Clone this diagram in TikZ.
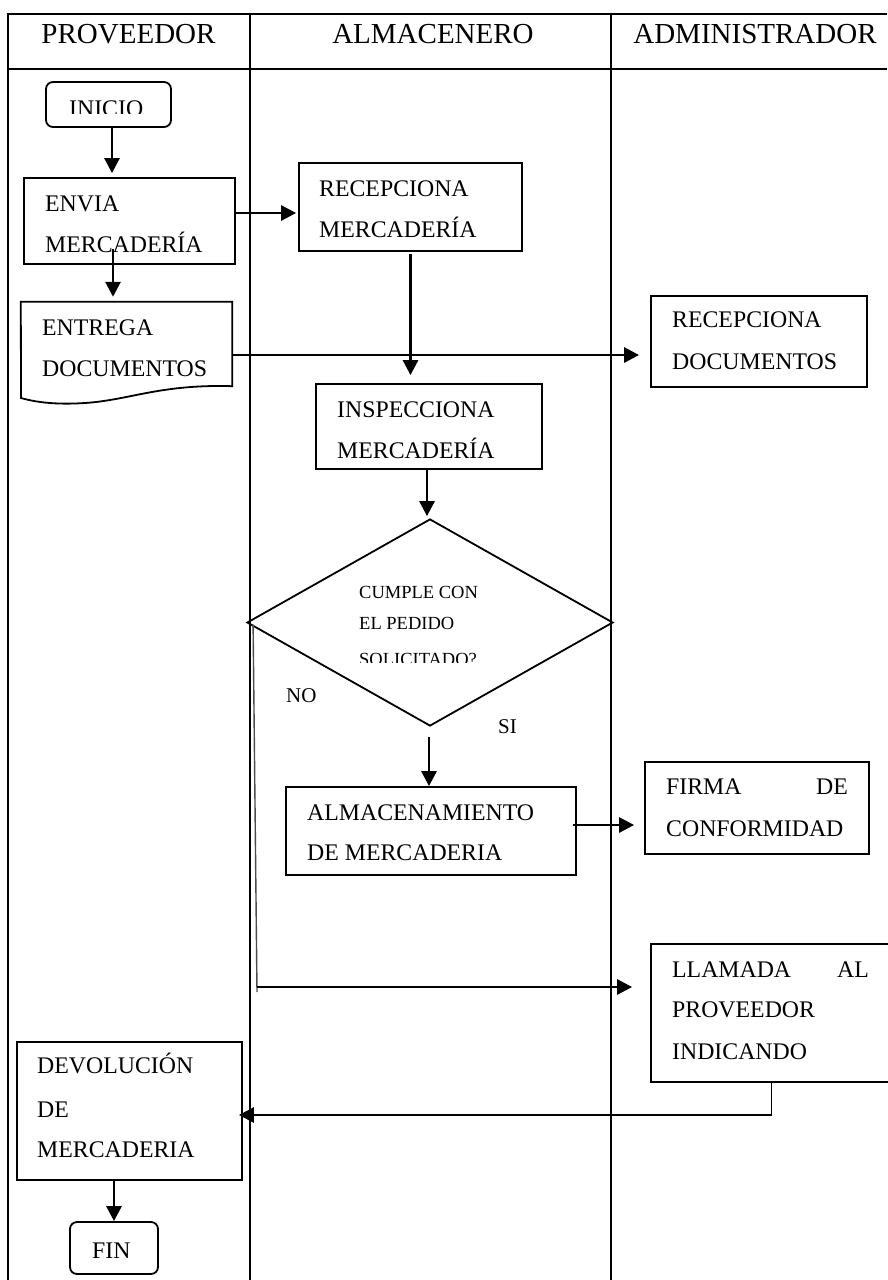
\documentclass[tikz,border=0pt]{standalone}
\usepackage{fontspec}
\setmainfont{Liberation Serif}
\usetikzlibrary{arrows.meta,shapes.geometric,calc}

\tikzset{
  grid/.style={line width=2.6pt},
  box/.style={draw, line width=1.8pt, inner sep=0pt, rectangle},
  term/.style={box, rounded corners=7pt},
  arr/.style={line width=2.8pt, -{Triangle[length=15pt,width=15pt]}},
  noline/.style={line width=1.4pt, draw=black!70},
  retline/.style={line width=1.6pt},
  head/.style={font=\fontsize{29}{35}\selectfont, inner sep=0pt, anchor=base},
  body/.style={font=\fontsize{23.8}{29}\selectfont, inner sep=0pt, anchor=base west},
  bodyr/.style={font=\fontsize{23.8}{29}\selectfont, inner sep=0pt, anchor=base east},
  small/.style={font=\fontsize{18.5}{22}\selectfont, inner sep=0pt, anchor=base west},
  lbl/.style={font=\fontsize{21}{25}\selectfont, inner sep=0pt, anchor=base west}
}

\begin{document}
\begin{tikzpicture}[x=1pt,y=1pt]
\useasboundingbox (0,0) rectangle (887,-1280);
\fill[white] (0,0) rectangle (887,-1280);

% swimlane table
\draw[grid] (8,-14) -- (887,-14);
\draw[grid] (8,-69) -- (887,-69);
\draw[grid] (8,-13) -- (8,-1280);
\draw[grid] (250,-13) -- (250,-1280);
\draw[grid] (611,-13) -- (611,-1280);

\node[head] (hprov) at (128.5,-43) {PROVEEDOR};
\node[head] (halm)  at (433,-43)   {ALMACENERO};
\node[head] (hadm)  at (755,-43)   {ADMINISTRADOR};

% shapes
\node[term, minimum width=125pt, minimum height=45pt] (inicio) at (108.5,-104.5) {};
\node[box, minimum width=211pt, minimum height=86pt] (envia) at (129.5,-221) {};
\node[box, minimum width=223pt, minimum height=88pt] (recmerc) at (410.5,-207) {};
\node[inner sep=0pt, minimum width=211pt, minimum height=84pt] (entrega) at (126.5,-344) {};
\draw[line width=1.8pt, line join=miter] (entrega.south east) -- (entrega.north east) -- (entrega.north west) -- (21,-398)
  .. controls (35,-402) and (55,-405) .. (85,-403)
  .. controls (130,-400) and (160,-384) .. (entrega.south east) -- cycle;
\node[box, minimum width=216pt, minimum height=91pt] (recdoc) at (759,-341.5) {};
\node[box, minimum width=226pt, minimum height=85pt] (inspec) at (429,-426.5) {};
\node[draw, line width=1.8pt, diamond, inner sep=0pt, minimum width=366pt, minimum height=207pt] (dec) at (430,-622.5) {};
\node[box, minimum width=290pt, minimum height=88pt] (almac) at (431,-831) {};
\node[box, minimum width=224pt, minimum height=92pt] (firma) at (757,-808) {};
\node[box, minimum width=241pt, minimum height=138pt] (llamada) at (771.5,-1013) {};
\node[box, minimum width=225pt, minimum height=138pt] (devol) at (129.5,-1111) {};
\node[term, minimum width=88pt, minimum height=52pt] (fin) at (114,-1248) {};

% texts
\begin{scope}
  \clip (40,-82) rectangle (175,-113);
  \node[body] (tinicio) at (69,-116) {INICIO};
\end{scope}
\node[body] (tenv1) at (45,-211) {ENVIA};
\node[body] (tenv2) at (45,-252) {MERCADERÍA};
\node[body] (trm1) at (319,-196) {RECEPCIONA};
\node[body] (trm2) at (319,-237) {MERCADERÍA};
\node[body] (tent1) at (42,-335) {ENTREGA};
\node[body] (tent2) at (42,-376) {DOCUMENTOS};
\node[body] (trd1) at (672,-327) {RECEPCIONA};
\node[body] (trd2) at (672,-369) {DOCUMENTOS};
\node[body] (tins1) at (337,-417) {INSPECCIONA};
\node[body] (tins2) at (337,-458) {MERCADERÍA};
\begin{scope}
  \clip (340,-570) rectangle (570,-662.5);
  \node[small] (tdec1) at (359,-598) {CUMPLE CON};
  \node[small] (tdec2) at (359,-629) {EL PEDIDO};
  \node[small] (tdec3) at (359,-665.5) {SOLICITADO?};
\end{scope}
\node[lbl] (tno) at (286,-702) {NO};
\node[lbl] (tsi) at (498,-733) {SI};
\node[body] (talm1) at (307,-820) {ALMACENAMIENTO};
\node[body] (talm2) at (307,-860) {DE MERCADERIA};
\node[body] (tfir1) at (666,-794) {FIRMA};
\node[bodyr] (tfir2) at (848,-794) {DE};
\node[body] (tfir3) at (666,-836) {CONFORMIDAD};
\node[body] (tll1) at (672,-977) {LLAMADA};
\node[bodyr] (tll2) at (869,-977) {AL};
\node[body] (tll3) at (672,-1017) {PROVEEDOR};
\node[body] (tll4) at (672,-1059) {INDICANDO};
\node[body] (tdev1) at (37,-1073) {DEVOLUCIÓN};
\node[body] (tdev2) at (37,-1117) {DE};
\node[body] (tdev3) at (37,-1157) {MERCADERIA};
\node[body] (tfin) at (92,-1258) {FIN};

% connectors
\draw[arr, shorten >=4pt] ($(inicio.south)+(3.5,0)$) -- ($(inicio.south |- envia.north)+(3.5,0)$);
\draw[arr, shorten >=2pt] ($(envia.east)+(0,8)$) -- ($(envia.east -| recmerc.west)+(0,8)$);
\draw[arr, shorten >=5pt] ($(envia.south)+(-16.5,16)$) -- ($(envia.south |- entrega.north)+(-16.5,0)$);
\draw[arr] ($(entrega.east)+(0,-11)$) -- ($(entrega.east -| recdoc.west)+(-11,-11)$);
\draw[arr, shorten >=8pt] ($(recmerc.south)+(0,-2)$) -- (recmerc.south |- inspec.north);
\draw[arr, shorten >=2pt] ($(inspec.south)+(-2,0)$) -- ($(inspec.south |- dec.north)+(-2,0)$);
\draw[arr] ($(dec.south)+(-1,-10)$) -- ($(dec.south |- almac.north)+(-1,0)$);
\draw[arr] ($(almac.east)+(-4,6)$) -- ($(almac.east -| firma.west)+(-10,6)$);

\coordinate (nocorner) at (257,-987);
\draw[noline] ($(dec.west)+(7,-2)$) -- ($(nocorner)+(0,-5)$);
\draw[arr] (nocorner) -- ($(nocorner -| llamada.west)+(-18,0)$);

\coordinate (retcorner) at (771.5,-1115);
\draw[retline] (llamada.south) -- (retcorner);
\draw[arr] ($(retcorner)+(0.8,0)$) -- ($(retcorner -| devol.east)+(-4,0)$);

\draw[arr] (fin.north |- devol.south) -- (fin.north);
\end{tikzpicture}
\end{document}
